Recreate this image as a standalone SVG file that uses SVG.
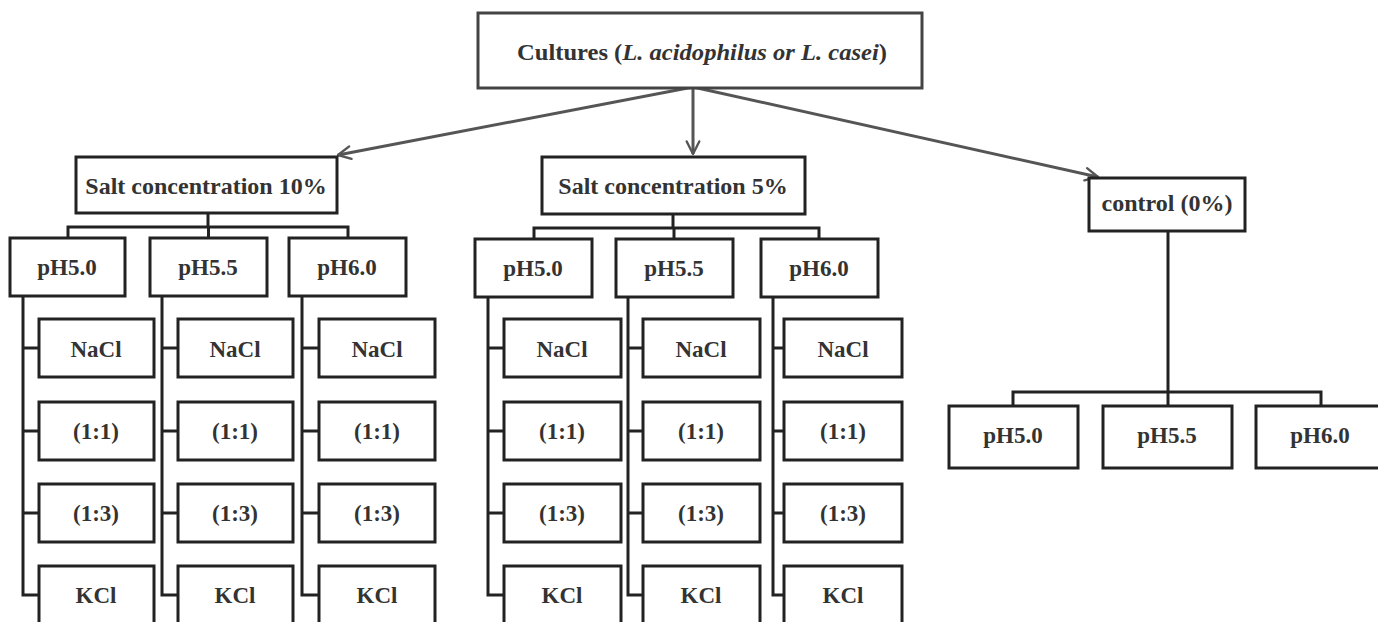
<svg xmlns="http://www.w3.org/2000/svg" width="1378" height="622" viewBox="0 0 1378 622">
<style>
.box{fill:#fff;stroke:#222;stroke-width:3}
.top{fill:#fff;stroke:#444;stroke-width:3}
.t{font-family:"Liberation Serif","Times New Roman",serif;font-weight:bold;fill:#333;text-anchor:middle}
.s23{font-size:23px}
.s24{font-size:24px}
.ln{fill:none;stroke:#222;stroke-width:3}
.ar{fill:none;stroke:#555;stroke-width:3}
</style>
<defs>
<marker id="ah" viewBox="0 0 20 20" refX="17" refY="10" markerWidth="6" markerHeight="6" markerUnits="strokeWidth" orient="auto">
<polyline points="3,3 17,10 3,17" fill="none" stroke="#555" stroke-width="2.6" stroke-linecap="round" stroke-linejoin="round"/>
</marker>
</defs>
<rect width="1378" height="622" fill="#fff"/>

<g id="connectors">
<line class="ar" x1="693" y1="87" x2="338" y2="155" marker-end="url(#ah)"/>
<line class="ar" x1="693" y1="87" x2="693" y2="154" marker-end="url(#ah)"/>
<line class="ar" x1="693" y1="87" x2="1098" y2="177" marker-end="url(#ah)"/>
<path class="ln" d="M208,213 V227 M68,238 V227 H348 V238 M208.5,227 V238"/>
<path class="ln" d="M23,296 V595 H39 M23,348 H39 M23,431 H39 M23,513 H39"/>
<path class="ln" d="M162,296 V595 H178 M162,348 H178 M162,431 H178 M162,513 H178"/>
<path class="ln" d="M302,296 V595 H319 M302,348 H319 M302,431 H319 M302,513 H319"/>
<path class="ln" d="M673,214 V228 M534,239 V228 H819 V239 M674,228 V239"/>
<path class="ln" d="M488,297 V595 H504 M488,348 H504 M488,431 H504 M488,513 H504"/>
<path class="ln" d="M628,297 V595 H643 M628,348 H643 M628,431 H643 M628,513 H643"/>
<path class="ln" d="M773,297 V595 H784 M773,348 H784 M773,431 H784 M773,513 H784"/>
<path class="ln" d="M1168,231 V392 M1013,406 V392 H1321 V406 M1168,392 V406"/>
</g>

<g id="cultures">
<rect class="top" x="478" y="13" width="444" height="75"/>
<text class="t s24" font-family="Liberation Serif, serif" x="702" y="60" textLength="370" lengthAdjust="spacingAndGlyphs">Cultures (<tspan font-style="italic">L. acidophilus or L. casei</tspan>)</text>
</g>

<g id="salt10">
<rect class="box" x="76" y="157" width="261" height="56"/>
<text class="t s24" x="206" y="194">Salt concentration 10%</text>
</g>
<g id="salt5">
<rect class="box" x="542" y="157" width="263" height="57"/>
<text class="t s24" x="673" y="194">Salt concentration 5%</text>
</g>
<g id="control">
<rect class="box" x="1089" y="178" width="156" height="53"/>
<text class="t s24" x="1167" y="211">control (0%)</text>
</g>

<g id="s10-ph50"><rect class="box" x="10" y="238" width="115" height="58"/><text class="t s23" x="67" y="275">pH5.0</text></g>
<g id="s10-ph55"><rect class="box" x="150" y="238" width="117" height="58"/><text class="t s23" x="208" y="275">pH5.5</text></g>
<g id="s10-ph60"><rect class="box" x="289" y="238" width="117" height="58"/><text class="t s23" x="347" y="275">pH6.0</text></g>

<g id="s10-c1-nacl"><rect class="box" x="39" y="319" width="115" height="58"/><text class="t s23" x="96" y="357">NaCl</text></g>
<g id="s10-c1-11"><rect class="box" x="39" y="402" width="115" height="58"/><text class="t s23" x="96" y="439">(1:1)</text></g>
<g id="s10-c1-13"><rect class="box" x="39" y="484" width="115" height="58"/><text class="t s23" x="96" y="521">(1:3)</text></g>
<g id="s10-c1-kcl"><rect class="box" x="39" y="566" width="115" height="70"/><text class="t s23" x="96" y="603">KCl</text></g>
<g id="s10-c2-nacl"><rect class="box" x="178" y="319" width="115" height="58"/><text class="t s23" x="235" y="357">NaCl</text></g>
<g id="s10-c2-11"><rect class="box" x="178" y="402" width="115" height="58"/><text class="t s23" x="235" y="439">(1:1)</text></g>
<g id="s10-c2-13"><rect class="box" x="178" y="484" width="115" height="58"/><text class="t s23" x="235" y="521">(1:3)</text></g>
<g id="s10-c2-kcl"><rect class="box" x="178" y="566" width="115" height="70"/><text class="t s23" x="235" y="603">KCl</text></g>
<g id="s10-c3-nacl"><rect class="box" x="319" y="319" width="116" height="58"/><text class="t s23" x="377" y="357">NaCl</text></g>
<g id="s10-c3-11"><rect class="box" x="319" y="402" width="116" height="58"/><text class="t s23" x="377" y="439">(1:1)</text></g>
<g id="s10-c3-13"><rect class="box" x="319" y="484" width="116" height="58"/><text class="t s23" x="377" y="521">(1:3)</text></g>
<g id="s10-c3-kcl"><rect class="box" x="319" y="566" width="116" height="70"/><text class="t s23" x="377" y="603">KCl</text></g>

<g id="s5-ph50"><rect class="box" x="475" y="239" width="117" height="58"/><text class="t s23" x="533" y="276">pH5.0</text></g>
<g id="s5-ph55"><rect class="box" x="616" y="239" width="117" height="58"/><text class="t s23" x="674" y="276">pH5.5</text></g>
<g id="s5-ph60"><rect class="box" x="761" y="239" width="117" height="58"/><text class="t s23" x="819" y="276">pH6.0</text></g>

<g id="s5-c1-nacl"><rect class="box" x="504" y="319" width="117" height="58"/><text class="t s23" x="562" y="357">NaCl</text></g>
<g id="s5-c1-11"><rect class="box" x="504" y="402" width="117" height="58"/><text class="t s23" x="562" y="439">(1:1)</text></g>
<g id="s5-c1-13"><rect class="box" x="504" y="484" width="117" height="58"/><text class="t s23" x="562" y="521">(1:3)</text></g>
<g id="s5-c1-kcl"><rect class="box" x="504" y="566" width="117" height="70"/><text class="t s23" x="562" y="603">KCl</text></g>
<g id="s5-c2-nacl"><rect class="box" x="643" y="319" width="117" height="58"/><text class="t s23" x="701" y="357">NaCl</text></g>
<g id="s5-c2-11"><rect class="box" x="643" y="402" width="117" height="58"/><text class="t s23" x="701" y="439">(1:1)</text></g>
<g id="s5-c2-13"><rect class="box" x="643" y="484" width="117" height="58"/><text class="t s23" x="701" y="521">(1:3)</text></g>
<g id="s5-c2-kcl"><rect class="box" x="643" y="566" width="117" height="70"/><text class="t s23" x="701" y="603">KCl</text></g>
<g id="s5-c3-nacl"><rect class="box" x="784" y="319" width="118" height="58"/><text class="t s23" x="843" y="357">NaCl</text></g>
<g id="s5-c3-11"><rect class="box" x="784" y="402" width="118" height="58"/><text class="t s23" x="843" y="439">(1:1)</text></g>
<g id="s5-c3-13"><rect class="box" x="784" y="484" width="118" height="58"/><text class="t s23" x="843" y="521">(1:3)</text></g>
<g id="s5-c3-kcl"><rect class="box" x="784" y="566" width="118" height="70"/><text class="t s23" x="843" y="603">KCl</text></g>

<g id="c-ph50"><rect class="box" x="949" y="406" width="129" height="62"/><text class="t s23" x="1013" y="443">pH5.0</text></g>
<g id="c-ph55"><rect class="box" x="1103" y="406" width="129" height="62"/><text class="t s23" x="1167" y="443">pH5.5</text></g>
<g id="c-ph60"><rect class="box" x="1256" y="406" width="130" height="62"/><text class="t s23" x="1320" y="443">pH6.0</text></g>
</svg>
